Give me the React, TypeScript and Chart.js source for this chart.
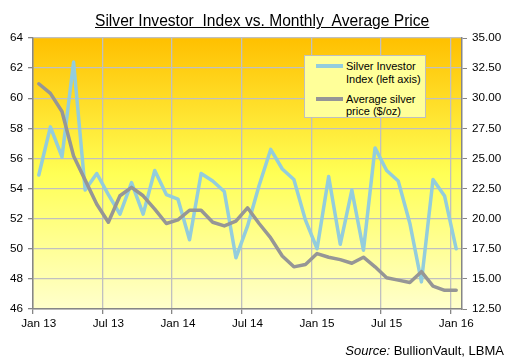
import React, { useEffect, useRef } from "react";
import { Chart, registerables } from "chart.js";
Chart.register(...registerables);

const months = [
  "Jan 13", "Feb 13", "Mar 13", "Apr 13", "May 13", "Jun 13", "Jul 13", "Aug 13", "Sep 13", "Oct 13", "Nov 13", "Dec 13",
  "Jan 14", "Feb 14", "Mar 14", "Apr 14", "May 14", "Jun 14", "Jul 14", "Aug 14", "Sep 14", "Oct 14", "Nov 14", "Dec 14",
  "Jan 15", "Feb 15", "Mar 15", "Apr 15", "May 15", "Jun 15", "Jul 15", "Aug 15", "Sep 15", "Oct 15", "Nov 15", "Dec 15",
  "Jan 16",
];
const xTickLabels = ["Jan 13", "Jul 13", "Jan 14", "Jul 14", "Jan 15", "Jul 15", "Jan 16"];

const investorIndex = [
  54.9, 58.1, 56.1, 62.4, 53.9, 55.0, 53.6, 52.3, 54.4, 52.3, 55.2, 53.6,
  53.3, 50.6, 55.0, 54.5, 53.8, 49.4, 51.5, 54.2, 56.6, 55.3, 54.6, 51.9,
  50.0, 54.8, 50.3, 53.9, 49.9, 56.7, 55.2, 54.5, 51.7, 47.8, 54.6, 53.5,
  50.0,
];
const silverPrice = [
  31.2, 30.4, 28.9, 25.2, 23.2, 21.2, 19.7, 21.9, 22.6, 21.9, 20.8, 19.6,
  19.9, 20.7, 20.7, 19.7, 19.4, 19.8, 20.9, 19.6, 18.4, 16.9, 16.0, 16.2,
  17.1, 16.8, 16.6, 16.3, 16.8, 16.0, 15.1, 14.9, 14.7, 15.6, 14.4, 14.05,
  14.05,
];

const seriesNames = ["Silver Investor Index (left axis)", "Average silver price ($/oz)"];
const titleText = "Silver Investor  Index vs. Monthly  Average Price";

const FONT = "'Liberation Sans', Arial, sans-serif";
const BLUE = "#93CDDD";
const GRAY = "#969696";
const GRID = "#C0C0C0";
const AXIS = "#868686";

const bgPlugin = {
  id: "bgGradient",
  beforeDraw(chart: any) {
    const { ctx, chartArea } = chart;
    if (!chartArea) return;
    const g = ctx.createLinearGradient(0, chartArea.top, 0, chartArea.bottom);
    g.addColorStop(0, "#FFC000");
    g.addColorStop(0.5, "#FFFF55");
    g.addColorStop(1, "#FFFFCC");
    ctx.save();
    ctx.fillStyle = g;
    ctx.fillRect(chartArea.left, chartArea.top, chartArea.right - chartArea.left, chartArea.bottom - chartArea.top);
    ctx.restore();
  },
};

export default function App() {
  const ref = useRef<HTMLCanvasElement | null>(null);
  useEffect(() => {
    if (!ref.current) return;
    const tickFont = { family: FONT, size: 11.7 };
    const chart = new Chart(ref.current, {
      type: "line",
      data: {
        labels: months,
        datasets: [
          {
            label: seriesNames[0],
            data: investorIndex,
            yAxisID: "y",
            borderColor: BLUE,
            backgroundColor: BLUE,
            borderWidth: 3.5,
            pointRadius: 0,
            tension: 0,
            borderJoinStyle: "round",
            borderCapStyle: "round",
            order: 2,
          },
          {
            label: seriesNames[1],
            data: silverPrice,
            yAxisID: "y1",
            borderColor: GRAY,
            backgroundColor: GRAY,
            borderWidth: 3.5,
            pointRadius: 0,
            tension: 0,
            borderJoinStyle: "round",
            borderCapStyle: "round",
            order: 1,
          },
        ],
      },
      options: {
        responsive: false,
        animation: false,
        devicePixelRatio: 1,
        layout: { padding: { top: 38, left: 0, right: 0, bottom: 0 } },
        plugins: { legend: { display: false }, title: { display: false }, tooltip: { enabled: false } },
        scales: {
          x: {
            type: "category",
            offset: true,
            grid: {
              offset: true,
              color: (c: any) => (c.index % 6 === 0 ? GRID : "rgba(0,0,0,0)"),
              tickColor: (c: any) => (c.index % 6 === 0 ? AXIS : "rgba(0,0,0,0)"),
              lineWidth: 1.3,
              tickLength: 5,
            },
            border: { display: true, color: AXIS, width: 1.5 },
            ticks: {
              autoSkip: false,
              maxRotation: 0,
              minRotation: 0,
              padding: 3,
              color: "#000",
              font: tickFont,
              callback: (_v: any, i: number) => (i % 6 === 0 ? xTickLabels[i / 6] : ""),
            },
            afterFit: (s: any) => {
              s.height = 50;
            },
          },
          y: {
            position: "left",
            min: 46,
            max: 64,
            grid: { color: GRID, lineWidth: 1.3, tickColor: AXIS, tickLength: 5 },
            border: { display: true, color: AXIS, width: 1.5 },
            ticks: { stepSize: 2, padding: 5, color: "#000", font: tickFont },
            afterFit: (s: any) => {
              s.width = 33;
            },
          },
          y1: {
            position: "right",
            min: 12.5,
            max: 35,
            grid: { drawOnChartArea: false, tickColor: AXIS, tickLength: 5 },
            border: { display: true, color: AXIS, width: 1.5 },
            ticks: {
              stepSize: 2.5,
              padding: 5,
              color: "#000",
              font: tickFont,
              callback: (v: any) => Number(v).toFixed(2),
            },
            afterFit: (s: any) => {
              s.width = 49;
            },
          },
        },
      },
      plugins: [bgPlugin],
    } as any);
    return () => chart.destroy();
  }, []);

  const legendLine = (color: string, top: number) => (
    <div style={{ position: "absolute", left: 11, top: top - 2, width: 27, height: 4, background: color }} />
  );
  const legendText = (lines: string[], top: number) => (
    <div style={{ position: "absolute", left: 41, top, fontSize: 11, lineHeight: "12.3px", color: "#000", whiteSpace: "pre" }}>
      {lines.map((l, i) => (
        <div key={i}>{l}</div>
      ))}
    </div>
  );

  return (
    <div style={{ position: "fixed", left: 0, top: 0, width: 511, height: 359, background: "#fff", fontFamily: FONT, overflow: "hidden" }}>
      <canvas ref={ref} width={511} height={359} style={{ position: "absolute", left: 0, top: 0, width: 511, height: 359 }} />
      <div
        style={{
          position: "absolute",
          left: 95,
          top: 12.3,
          fontSize: 15.6,
          lineHeight: "18px",
          whiteSpace: "pre",
          textDecoration: "underline",
          color: "#000",
        }}
      >
        {titleText}
      </div>
      <div
        style={{
          position: "absolute",
          left: 304,
          top: 55,
          width: 122,
          height: 63,
          background: "#FFFF99",
          border: "1px solid #BFBFBF",
          boxSizing: "border-box",
        }}
      >
        {legendLine(BLUE, 10)}
        {legendText(["Silver Investor", "Index (left axis)"], 4.3)}
        {legendLine(GRAY, 42.7)}
        {legendText(["Average silver", "price ($/oz)"], 36.7)}
      </div>
      <div
        style={{
          position: "absolute",
          left: 0,
          width: 504,
          top: 343,
          fontSize: 13,
          lineHeight: "15px",
          textAlign: "right",
          color: "#000",
          whiteSpace: "pre",
        }}
      >
        <i>Source:</i> BullionVault, LBMA
      </div>
    </div>
  );
}
